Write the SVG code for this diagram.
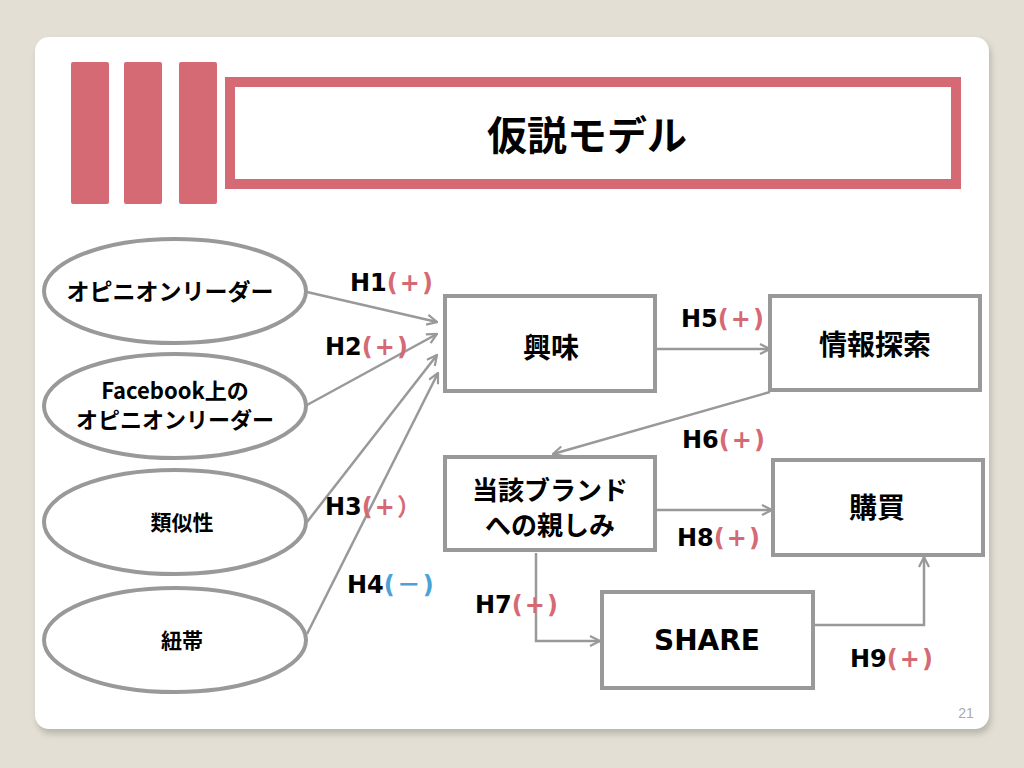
<svg xmlns="http://www.w3.org/2000/svg" width="1024" height="768" viewBox="0 0 1024 768">
<defs>
<style>
.bar{fill:#d56a75}
.node{fill:#fff;stroke:#999;stroke-width:4}
.ell{fill:#fff;stroke:#999;stroke-width:4}
.conn{fill:none;stroke:#999;stroke-width:2.5}
.jp{font-family:"Noto Sans CJK JP","DejaVu Sans",sans-serif;font-weight:bold;fill:#000;text-anchor:middle}
.en{font-family:"DejaVu Sans","Noto Sans CJK JP",sans-serif;font-weight:bold;fill:#000;text-anchor:middle}
.lbl{font-family:"DejaVu Sans","Noto Sans CJK JP",sans-serif;font-weight:bold;font-size:24px;fill:#000}
.pos{fill:#d56a75;letter-spacing:2px}
.neg{fill:#4aa3d6;letter-spacing:2px}
</style>
<marker id="arr" viewBox="0 0 12 12" refX="11" refY="6" markerWidth="12" markerHeight="12" markerUnits="userSpaceOnUse" orient="auto">
<path d="M1,1 L11,6 L1,11" fill="none" stroke="#999" stroke-width="2.2"/>
</marker>
<filter id="sh" x="-5%" y="-5%" width="110%" height="115%">
<feGaussianBlur stdDeviation="3"/>
</filter>
</defs>
<rect width="1024" height="768" fill="#e3dfd4"/>
<rect x="37" y="41" width="954" height="693" rx="14" fill="#9e9b93" opacity="0.6" filter="url(#sh)"/>
<rect x="35" y="37" width="954" height="692" rx="14" fill="#fff"/>
<g id="header">
<rect class="bar" x="71" y="62" width="38" height="142" rx="2"/>
<rect class="bar" x="124" y="62" width="38" height="142" rx="2"/>
<rect class="bar" x="179" y="62" width="38" height="142" rx="2"/>
<rect x="230" y="82" width="726" height="102" fill="#fff" stroke="#d56a75" stroke-width="10"/>
<text class="jp" x="587" y="150" font-size="40">仮説モデル</text>
</g>
<g id="connectors">
<line class="conn" x1="307" y1="292" x2="437" y2="322" marker-end="url(#arr)"/>
<line class="conn" x1="307" y1="405" x2="437" y2="334" marker-end="url(#arr)"/>
<line class="conn" x1="307" y1="522" x2="437" y2="355" marker-end="url(#arr)"/>
<line class="conn" x1="307" y1="634" x2="438" y2="373" marker-end="url(#arr)"/>
<line class="conn" x1="657" y1="349" x2="770" y2="349" marker-end="url(#arr)"/>
<line class="conn" x1="770" y1="392" x2="553" y2="454" marker-end="url(#arr)"/>
<line class="conn" x1="657" y1="510" x2="772" y2="510" marker-end="url(#arr)"/>
<polyline class="conn" points="536,553 536,641 600,641" marker-end="url(#arr)"/>
<polyline class="conn" points="813,625 924,625 924,557" marker-end="url(#arr)"/>
</g>
<g id="n-opinion">
<ellipse class="ell" cx="175" cy="291" rx="131" ry="52"/>
<text class="jp" x="170" y="300" font-size="23">オピニオンリーダー</text>
</g>
<g id="n-facebook">
<ellipse class="ell" cx="175" cy="406" rx="131" ry="52"/>
<text class="jp" font-size="22"><tspan x="175" y="399">Facebook上の</tspan><tspan x="175" y="428">オピニオンリーダー</tspan></text>
</g>
<g id="n-similar">
<ellipse class="ell" cx="175" cy="522" rx="131" ry="52"/>
<text class="jp" x="182" y="530" font-size="21">類似性</text>
</g>
<g id="n-tie">
<ellipse class="ell" cx="175" cy="640" rx="131" ry="52"/>
<text class="jp" x="182" y="648" font-size="21">紐帯</text>
</g>
<g id="n-interest">
<rect class="node" x="445" y="296" width="210" height="95"/>
<text class="jp" x="551" y="358" font-size="28">興味</text>
</g>
<g id="n-search">
<rect class="node" x="770" y="296" width="210" height="94"/>
<text class="jp" x="875" y="355" font-size="28">情報探索</text>
</g>
<g id="n-brand">
<rect class="node" x="445" y="457" width="210" height="93"/>
<text class="jp" font-size="26"><tspan x="550" y="500">当該ブランド</tspan><tspan x="550" y="535">への親しみ</tspan></text>
</g>
<g id="n-purchase">
<rect class="node" x="773" y="460" width="210" height="95"/>
<text class="jp" x="877" y="518" font-size="28">購買</text>
</g>
<g id="n-share">
<rect class="node" x="602" y="592" width="211" height="96"/>
<text class="en" x="707" y="650" font-size="28">SHARE</text>
</g>
<g id="labels">
<text class="lbl" x="350" y="291">H1<tspan class="pos">(+)</tspan></text>
<text class="lbl" x="325" y="355">H2<tspan class="pos">(+)</tspan></text>
<text class="lbl" x="325" y="515">H3<tspan class="pos">(+）</tspan></text>
<text class="lbl" x="347" y="593">H4<tspan class="neg">(－)</tspan></text>
<text class="lbl" x="681" y="327">H5<tspan class="pos">(+)</tspan></text>
<text class="lbl" x="682" y="448">H6<tspan class="pos">(+)</tspan></text>
<text class="lbl" x="475" y="613">H7<tspan class="pos">(+)</tspan></text>
<text class="lbl" x="677" y="546">H8<tspan class="pos">(+)</tspan></text>
<text class="lbl" x="850" y="667">H9<tspan class="pos">(+)</tspan></text>
</g>
<text x="966" y="718" font-family="Liberation Sans,sans-serif" font-size="14" fill="#aaa" text-anchor="middle">21</text>
</svg>
